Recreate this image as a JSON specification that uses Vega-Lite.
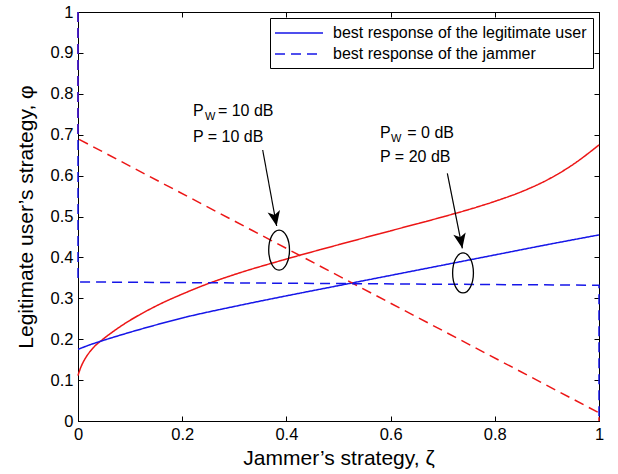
{
  "$schema": "https://vega.github.io/schema/vega-lite/v6.json",
  "width": 521,
  "height": 409,
  "autosize": {"type": "none"},
  "padding": {"left": 78, "top": 12, "right": 19, "bottom": 53},
  "background": "white",
  "datasets": {
    "curves": [
      {"x": 0, "y": 0.111, "s": "best response of the legitimate user", "c": "Pw = 10 dB, P = 10 dB", "i": 0},
      {"x": 0.005, "y": 0.13, "s": "best response of the legitimate user", "c": "Pw = 10 dB, P = 10 dB", "i": 1},
      {"x": 0.01, "y": 0.144, "s": "best response of the legitimate user", "c": "Pw = 10 dB, P = 10 dB", "i": 2},
      {"x": 0.0154, "y": 0.156, "s": "best response of the legitimate user", "c": "Pw = 10 dB, P = 10 dB", "i": 3},
      {"x": 0.03, "y": 0.18, "s": "best response of the legitimate user", "c": "Pw = 10 dB, P = 10 dB", "i": 4},
      {"x": 0.047, "y": 0.199, "s": "best response of the legitimate user", "c": "Pw = 10 dB, P = 10 dB", "i": 5},
      {"x": 0.07, "y": 0.221, "s": "best response of the legitimate user", "c": "Pw = 10 dB, P = 10 dB", "i": 6},
      {"x": 0.092, "y": 0.24, "s": "best response of the legitimate user", "c": "Pw = 10 dB, P = 10 dB", "i": 7},
      {"x": 0.12, "y": 0.261, "s": "best response of the legitimate user", "c": "Pw = 10 dB, P = 10 dB", "i": 8},
      {"x": 0.156, "y": 0.285, "s": "best response of the legitimate user", "c": "Pw = 10 dB, P = 10 dB", "i": 9},
      {"x": 0.207, "y": 0.314, "s": "best response of the legitimate user", "c": "Pw = 10 dB, P = 10 dB", "i": 10},
      {"x": 0.25, "y": 0.336, "s": "best response of the legitimate user", "c": "Pw = 10 dB, P = 10 dB", "i": 11},
      {"x": 0.3, "y": 0.358, "s": "best response of the legitimate user", "c": "Pw = 10 dB, P = 10 dB", "i": 12},
      {"x": 0.4, "y": 0.396, "s": "best response of the legitimate user", "c": "Pw = 10 dB, P = 10 dB", "i": 13},
      {"x": 0.5, "y": 0.431, "s": "best response of the legitimate user", "c": "Pw = 10 dB, P = 10 dB", "i": 14},
      {"x": 0.6, "y": 0.465, "s": "best response of the legitimate user", "c": "Pw = 10 dB, P = 10 dB", "i": 15},
      {"x": 0.7, "y": 0.499, "s": "best response of the legitimate user", "c": "Pw = 10 dB, P = 10 dB", "i": 16},
      {"x": 0.75, "y": 0.517, "s": "best response of the legitimate user", "c": "Pw = 10 dB, P = 10 dB", "i": 17},
      {"x": 0.8, "y": 0.537, "s": "best response of the legitimate user", "c": "Pw = 10 dB, P = 10 dB", "i": 18},
      {"x": 0.85, "y": 0.56, "s": "best response of the legitimate user", "c": "Pw = 10 dB, P = 10 dB", "i": 19},
      {"x": 0.9, "y": 0.589, "s": "best response of the legitimate user", "c": "Pw = 10 dB, P = 10 dB", "i": 20},
      {"x": 0.95, "y": 0.627, "s": "best response of the legitimate user", "c": "Pw = 10 dB, P = 10 dB", "i": 21},
      {"x": 1, "y": 0.675, "s": "best response of the legitimate user", "c": "Pw = 10 dB, P = 10 dB", "i": 22},
      {"x": 0, "y": 1, "s": "best response of the jammer", "c": "Pw = 10 dB, P = 10 dB", "i": 0},
      {"x": 0, "y": 0.69, "s": "best response of the jammer", "c": "Pw = 10 dB, P = 10 dB", "i": 1},
      {"x": 1, "y": 0.02, "s": "best response of the jammer", "c": "Pw = 10 dB, P = 10 dB", "i": 2},
      {"x": 1, "y": 0, "s": "best response of the jammer", "c": "Pw = 10 dB, P = 10 dB", "i": 3},
      {"x": 0, "y": 0.175, "s": "best response of the legitimate user", "c": "Pw = 0 dB, P = 20 dB", "i": 0},
      {"x": 0.02, "y": 0.185, "s": "best response of the legitimate user", "c": "Pw = 0 dB, P = 20 dB", "i": 1},
      {"x": 0.046, "y": 0.196, "s": "best response of the legitimate user", "c": "Pw = 0 dB, P = 20 dB", "i": 2},
      {"x": 0.1, "y": 0.217, "s": "best response of the legitimate user", "c": "Pw = 0 dB, P = 20 dB", "i": 3},
      {"x": 0.15, "y": 0.235, "s": "best response of the legitimate user", "c": "Pw = 0 dB, P = 20 dB", "i": 4},
      {"x": 0.207, "y": 0.254, "s": "best response of the legitimate user", "c": "Pw = 0 dB, P = 20 dB", "i": 5},
      {"x": 0.3, "y": 0.28, "s": "best response of the legitimate user", "c": "Pw = 0 dB, P = 20 dB", "i": 6},
      {"x": 0.4, "y": 0.306, "s": "best response of the legitimate user", "c": "Pw = 0 dB, P = 20 dB", "i": 7},
      {"x": 0.5, "y": 0.331, "s": "best response of the legitimate user", "c": "Pw = 0 dB, P = 20 dB", "i": 8},
      {"x": 0.6, "y": 0.356, "s": "best response of the legitimate user", "c": "Pw = 0 dB, P = 20 dB", "i": 9},
      {"x": 0.7, "y": 0.381, "s": "best response of the legitimate user", "c": "Pw = 0 dB, P = 20 dB", "i": 10},
      {"x": 0.8, "y": 0.406, "s": "best response of the legitimate user", "c": "Pw = 0 dB, P = 20 dB", "i": 11},
      {"x": 0.9, "y": 0.431, "s": "best response of the legitimate user", "c": "Pw = 0 dB, P = 20 dB", "i": 12},
      {"x": 1, "y": 0.455, "s": "best response of the legitimate user", "c": "Pw = 0 dB, P = 20 dB", "i": 13},
      {"x": 0, "y": 1, "s": "best response of the jammer", "c": "Pw = 0 dB, P = 20 dB", "i": 0},
      {"x": 0, "y": 0.34, "s": "best response of the jammer", "c": "Pw = 0 dB, P = 20 dB", "i": 1},
      {"x": 1, "y": 0.332, "s": "best response of the jammer", "c": "Pw = 0 dB, P = 20 dB", "i": 2},
      {"x": 1, "y": 0, "s": "best response of the jammer", "c": "Pw = 0 dB, P = 20 dB", "i": 3}
    ],
    "ellipses": [
      {"x": 0.386, "y": 0.418},
      {"x": 0.739, "y": 0.362}
    ],
    "arrows": [
      {"a": 1, "x": 0.3545, "y": 0.6626, "i": 0},
      {"a": 1, "x": 0.3813, "y": 0.4768, "i": 1},
      {"a": 2, "x": 0.7089, "y": 0.6056, "i": 0},
      {"a": 2, "x": 0.7377, "y": 0.4222, "i": 1}
    ],
    "heads": [
      {"x": 0.3813, "y": 0.4768},
      {"x": 0.7377, "y": 0.4222}
    ],
    "labels": [
      {"t": "P", "x": 0.2207, "y": 0.758, "k": "main"},
      {"t": "W", "x": 0.2438, "y": 0.743, "k": "sub"},
      {"t": "= 10 dB", "x": 0.2685, "y": 0.758, "k": "main"},
      {"t": "P = 10 dB", "x": 0.2207, "y": 0.694, "k": "main"},
      {"t": "P", "x": 0.5797, "y": 0.705, "k": "main"},
      {"t": "W", "x": 0.6008, "y": 0.69, "k": "sub"},
      {"t": "= 0 dB", "x": 0.632, "y": 0.705, "k": "main"},
      {"t": "P = 20 dB", "x": 0.5797, "y": 0.646, "k": "main"}
    ]
  },
  "layer": [
    {
      "data": {"name": "curves"},
      "transform": [{"filter": "datum.s == 'best response of the legitimate user'"}],
      "mark": {"type": "line", "strokeWidth": 1.5, "clip": false, "interpolate": "monotone"},
      "encoding": {
        "x": {"field": "x", "type": "quantitative", "scale": {"domain": [0, 1], "nice": false},
              "axis": {"values": [0, 0.2, 0.4, 0.6, 0.8, 1], "format": "~g", "title": "Jammer’s strategy, ζ", "titlePadding": 5}},
        "y": {"field": "y", "type": "quantitative", "scale": {"domain": [0, 1], "nice": false},
              "axis": {"values": [0, 0.1, 0.2, 0.3, 0.4, 0.5, 0.6, 0.7, 0.8, 0.9, 1], "format": "~g", "title": "Legitimate user’s strategy, φ", "titlePadding": 14}},
        "color": {"field": "c", "type": "nominal", "scale": {"domain": ["Pw = 10 dB, P = 10 dB", "Pw = 0 dB, P = 20 dB"], "range": ["#ec1616", "#1616e8"]}, "legend": null},
        "strokeDash": {"field": "s", "type": "nominal",
          "scale": {"domain": ["best response of the legitimate user", "best response of the jammer"], "range": [[1, 0], [10, 6]]},
          "legend": {"title": null, "orient": "top-right", "offset": 6, "padding": 6,
            "strokeColor": "black", "fillColor": "white", "cornerRadius": 0,
            "symbolType": "M-3,0H3", "symbolSize": 256, "symbolStrokeColor": "#1616e8", "symbolStrokeWidth": 1.5,
            "symbolOffset": 14, "labelOffset": 25, "labelFontSize": 16, "labelColor": "black", "labelLimit": 500, "rowPadding": 4}},
        "order": {"field": "i", "type": "quantitative"}
      }
    },
    {
      "data": {"name": "curves"},
      "transform": [{"filter": "datum.s == 'best response of the jammer'"}],
      "mark": {"type": "line", "strokeWidth": 1.5, "clip": false},
      "encoding": {
        "x": {"field": "x", "type": "quantitative", "axis": null},
        "y": {"field": "y", "type": "quantitative", "axis": null},
        "color": {"field": "c", "type": "nominal", "legend": null},
        "strokeDash": {"field": "s", "type": "nominal"},
        "order": {"field": "i", "type": "quantitative"}
      }
    },
    {
      "data": {"name": "ellipses"},
      "mark": {"type": "point", "shape": "M-0.52,0 A0.52,1 0 1,0 0.52,0 A0.52,1 0 1,0 -0.52,0 Z", "size": 1600, "filled": false, "stroke": "black", "strokeWidth": 1.3, "opacity": 1},
      "encoding": {
        "x": {"field": "x", "type": "quantitative", "axis": null},
        "y": {"field": "y", "type": "quantitative", "axis": null}
      }
    },
    {
      "data": {"name": "arrows"},
      "mark": {"type": "line", "color": "black", "strokeWidth": 1.2},
      "encoding": {
        "x": {"field": "x", "type": "quantitative", "axis": null},
        "y": {"field": "y", "type": "quantitative", "axis": null},
        "detail": {"field": "a", "type": "nominal"},
        "order": {"field": "i", "type": "quantitative"}
      }
    },
    {
      "data": {"name": "heads"},
      "mark": {"type": "point", "shape": "M0,0 L-0.42,-1 L0,-0.75 L0.42,-1 Z", "size": 900, "filled": true, "color": "black", "opacity": 1, "angle": 349},
      "encoding": {
        "x": {"field": "x", "type": "quantitative", "axis": null},
        "y": {"field": "y", "type": "quantitative", "axis": null}
      }
    },
    {
      "data": {"name": "labels"},
      "transform": [{"filter": "datum.k == 'main'"}],
      "mark": {"type": "text", "align": "left", "baseline": "middle", "fontSize": 16, "color": "black"},
      "encoding": {
        "x": {"field": "x", "type": "quantitative", "axis": null},
        "y": {"field": "y", "type": "quantitative", "axis": null},
        "text": {"field": "t"}
      }
    },
    {
      "data": {"name": "labels"},
      "transform": [{"filter": "datum.k == 'sub'"}],
      "mark": {"type": "text", "align": "left", "baseline": "middle", "fontSize": 11, "color": "black"},
      "encoding": {
        "x": {"field": "x", "type": "quantitative", "axis": null},
        "y": {"field": "y", "type": "quantitative", "axis": null},
        "text": {"field": "t"}
      }
    },
    {
      "data": {"name": "ellipses"},
      "mark": {"type": "point", "opacity": 0},
      "encoding": {
        "x": {"field": "x", "type": "quantitative",
              "axis": {"orient": "top", "values": [0, 0.2, 0.4, 0.6, 0.8, 1], "labels": false, "title": null}},
        "y": {"field": "y", "type": "quantitative",
              "axis": {"orient": "right", "values": [0, 0.1, 0.2, 0.3, 0.4, 0.5, 0.6, 0.7, 0.8, 0.9, 1], "labels": false, "title": null}}
      }
    }
  ],
  "resolve": {"axis": {"x": "independent", "y": "independent"}},
  "config": {
    "font": "Liberation Sans",
    "view": {"stroke": "black", "strokeWidth": 1},
    "axis": {
      "grid": false, "domainColor": "black", "domainWidth": 1, "tickColor": "black", "tickSize": -5, "tickWidth": 1,
      "labelFontSize": 16.5, "labelColor": "black", "labelFlush": false, "labelOverlap": false, "labelPadding": 10,
      "titleFontSize": 21, "titleFontWeight": "normal", "titleColor": "black"
    }
  }
}
